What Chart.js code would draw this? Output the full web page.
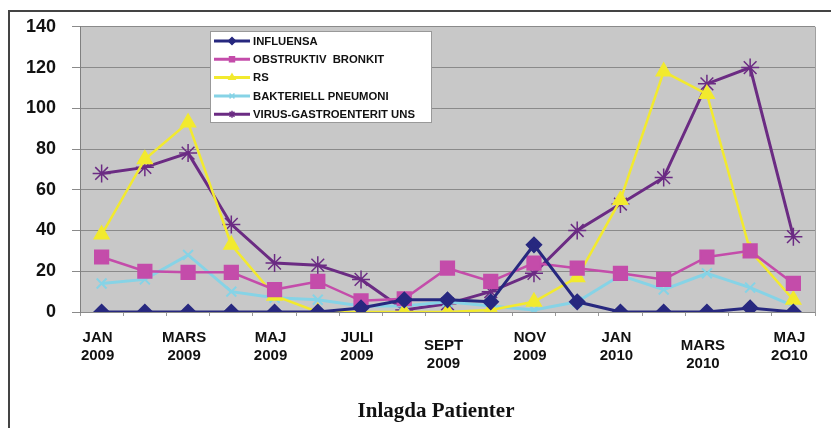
<!DOCTYPE html>
<html>
<head>
<meta charset="utf-8">
<title>Inlagda Patienter</title>
<script src="https://cdn.jsdelivr.net/npm/chart.js@4/dist/chart.umd.min.js"></script>
<style>
    body { margin: 0; background: #fff; }
    #wrap { position: relative; width: 831px; height: 428px; }
    #frame {
        position: absolute; left: 8px; top: 10px; width: 823px; height: 418px;
        border-left: 2px solid #444; border-top: 2px solid #444;
        box-sizing: border-box; pointer-events: none;
    }
</style>
</head>
<body>
<div id="wrap">
    <canvas id="InlagdaChart" width="831" height="428"></canvas>
    <div id="frame"></div>
</div>
<script>
// one value per month, Jan 2009 - Maj 2010
var months = ["JAN 2009", "FEB 2009", "MARS 2009", "APR 2009", "MAJ 2009", "JUNI 2009",
    "JULI 2009", "AUG 2009", "SEPT 2009", "OKT 2009", "NOV 2009", "DEC 2009",
    "JAN 2010", "FEB 2010", "MARS 2010", "APR 2010", "MAJ 2010"];
var tickLabels = [["JAN", "2009"], null, ["MARS", "2009"], null, ["MAJ", "2009"], null,
    ["JULI", "2009"], null, ["SEPT", "2009"], null, ["NOV", "2009"], null,
    ["JAN", "2010"], null, ["MARS", "2010"], null, ["MAJ", "2O10"]];
var yTicks = [0, 20, 40, 60, 80, 100, 120, 140];
var chartTitle = "Inlagda Patienter";

var influensa = [0, 0, 0, 0, 0, 0, 2, 6, 6, 5, 33, 5, 0, 0, 0, 2, 0];
var obstruktivBronkit = [27, 20, 19.5, 19.5, 11, 15, 5.5, 6.5, 21.5, 15, 24, 21.5, 19, 16, 27, 30, 14];
var rs = [38, 75, 93, 33, 8, 0, 0, 0, 0, 1, 5, 17, 55, 118, 107, 30, 6];
var bakteriellPneumoni = [14, 16, 28, 10, 7, 6, 3, 3, 5, 3, 1, 5, 18, 11, 19, 12, 3];
var virusGastro = [68, 71, 78, 43, 24, 23, 16, 1, 4, 10, 19, 40, 53, 66, 112, 120, 37];

// labels that sit a bit lower in the original
var droppedLabels = [8, 14];

var chartDecor = {
    id: "chartDecor",
    beforeDraw: function (chart) {
        var a = chart.chartArea, ctx = chart.ctx;
        ctx.save();
        ctx.fillStyle = "#c8c8c8";
        ctx.fillRect(a.left, a.top, a.right - a.left, a.bottom - a.top);
        ctx.restore();
    },
    afterDraw: function (chart) {
        var ctx = chart.ctx, a = chart.chartArea;
        var xScale = chart.scales.x;
        ctx.save();

        // right edge of the plot
        ctx.strokeStyle = "#a0a0a0";
        ctx.lineWidth = 1;
        ctx.beginPath();
        ctx.moveTo(a.right + 0.5, a.top);
        ctx.lineTo(a.right + 0.5, a.bottom);
        ctx.stroke();

        // month labels under the axis
        ctx.fillStyle = "#111";
        ctx.font = "bold 15px Arial, 'Liberation Sans', sans-serif";
        ctx.textAlign = "center";
        ctx.textBaseline = "alphabetic";
        for (var i = 0; i < tickLabels.length; i++) {
            if (!tickLabels[i]) continue;
            var x = xScale.getPixelForValue(i);
            var y = a.bottom + 30 + (droppedLabels.indexOf(i) >= 0 ? 8 : 0);
            for (var l = 0; l < tickLabels[i].length; l++) {
                ctx.fillText(tickLabels[i][l], x - 4, y + l * 18);
            }
        }

        // axis title
        ctx.font = "bold 21px 'Liberation Serif', 'DejaVu Serif', serif";
        ctx.fillText(chartTitle, 436, 417);

        // legend box inside the plot
        var bx = 210, by = 31, bw = 221, bh = 91;
        ctx.fillStyle = "#fff";
        ctx.fillRect(bx, by, bw, bh);
        ctx.strokeStyle = "#999";
        ctx.strokeRect(bx + 0.5, by + 0.5, bw, bh);
        ctx.font = "bold 11.3px Arial, 'Liberation Sans', sans-serif";
        ctx.textAlign = "left";
        ctx.textBaseline = "middle";
        chart.data.datasets.forEach(function (ds, k) {
            var cy = by + 10 + k * 18.3;
            ctx.strokeStyle = ds.borderColor;
            ctx.lineWidth = 3;
            ctx.beginPath();
            ctx.moveTo(bx + 4, cy);
            ctx.lineTo(bx + 40, cy);
            ctx.stroke();
            ctx.fillStyle = ds.pointBackgroundColor;
            ctx.strokeStyle = ds.pointBorderColor;
            ctx.lineWidth = 1.5;
            if (Chart.helpers && Chart.helpers.drawPoint) {
                Chart.helpers.drawPoint(ctx, { pointStyle: ds.pointStyle, radius: 3.5, rotation: 0, borderWidth: 1.5 }, bx + 22, cy);
            }
            ctx.fillStyle = "#111";
            ctx.fillText(ds.label, bx + 43, cy + 0.5);
        });
        ctx.restore();
    },
};

var canvas = document.getElementById("InlagdaChart").getContext("2d");
var inlagdaChart = new Chart(canvas, {
    type: "line",
    data: {
        labels: months,
        datasets: [
            {
                label: "INFLUENSA",
                data: influensa,
                borderColor: "#27287f",
                pointBackgroundColor: "#27287f",
                pointBorderColor: "#27287f",
                borderWidth: 3,
                pointStyle: "rectRot",
                pointRadius: 6.5,
            },
            {
                label: "OBSTRUKTIV  BRONKIT",
                data: obstruktivBronkit,
                borderColor: "#c44caa",
                pointBackgroundColor: "#c44caa",
                pointBorderColor: "#c44caa",
                borderWidth: 2.5,
                pointStyle: "rect",
                pointRadius: 9,
            },
            {
                label: "RS",
                data: rs,
                borderColor: "#f2ea2e",
                pointBackgroundColor: "#f2ea2e",
                pointBorderColor: "#f2ea2e",
                borderWidth: 2.5,
                pointStyle: "triangle",
                pointRadius: 7.5,
            },
            {
                label: "BAKTERIELL PNEUMONI",
                data: bakteriellPneumoni,
                borderColor: "#86d3e6",
                pointBackgroundColor: "#86d3e6",
                pointBorderColor: "#86d3e6",
                borderWidth: 3,
                pointStyle: "crossRot",
                pointRadius: 7,
                pointBorderWidth: 2,
            },
            {
                label: "VIRUS-GASTROENTERIT UNS",
                data: virusGastro,
                borderColor: "#6b2b83",
                pointBackgroundColor: "#6b2b83",
                pointBorderColor: "#6b2b83",
                borderWidth: 3,
                pointStyle: "star",
                pointRadius: 9,
                pointBorderWidth: 1.5,
            },
        ],
    },
    options: {
        responsive: false,
        animation: false,
        layout: {
            padding: { top: 20, right: 16, left: 0, bottom: 0 },
        },
        plugins: {
            legend: { display: false },
            tooltip: { enabled: false },
            title: { display: false },
        },
        scales: {
            x: {
                offset: true,
                ticks: { display: false },
                grid: {
                    offset: true,
                    drawOnChartArea: false,
                    drawTicks: true,
                    tickLength: 4,
                    color: "#999",
                },
                border: { display: false },
                afterFit: function (scale) {
                    scale.height = 116;
                },
            },
            y: {
                min: 0,
                max: 140,
                afterBuildTicks: function (scale) {
                    scale.ticks = yTicks.map(function (v) { return { value: v }; });
                },
                ticks: {
                    color: "#111",
                    padding: 16,
                    font: { family: "Arial, 'Liberation Sans', sans-serif", size: 18, weight: "bold" },
                },
                grid: { color: "#8a8a8a", tickLength: 8, lineWidth: 1 },
                border: { display: true, color: "#808080" },
                afterFit: function (scale) {
                    scale.width = 80;
                },
            },
        },
    },
    plugins: [chartDecor],
});
</script>
</body>
</html>
